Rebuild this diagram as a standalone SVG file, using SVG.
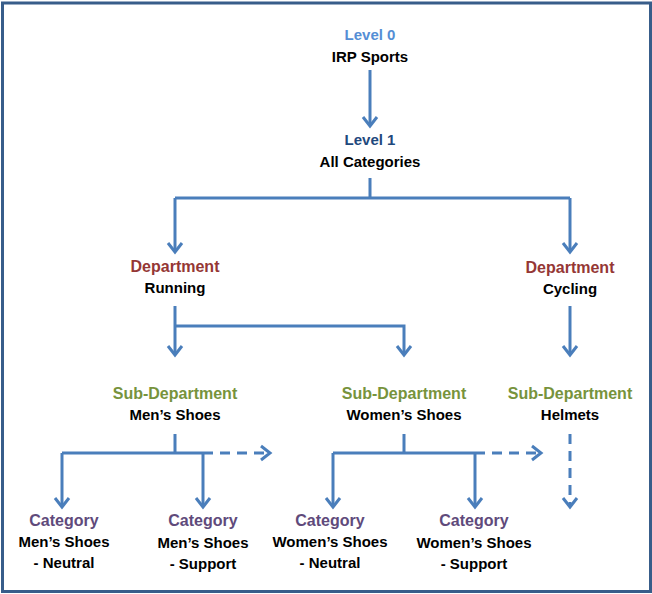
<svg xmlns="http://www.w3.org/2000/svg" width="652" height="594" viewBox="0 0 652 594">
<defs>
<marker id="chev" markerUnits="userSpaceOnUse" markerWidth="20" markerHeight="20" refX="0" refY="0" viewBox="-12 -10 14 20" orient="auto" overflow="visible">
<path d="M-9,-7 L0,0 L-9,7" fill="none" stroke="#4A7EBB" stroke-width="3"/>
</marker>
<style>
.t{font-family:"Liberation Sans",Arial,sans-serif;font-weight:bold;text-anchor:middle;font-size:15px;fill:#000}
.l0{fill:#558ED5}
.l1{fill:#1F497D}
.dep{fill:#953735;font-size:16px}
.sub{fill:#77933C;font-size:16px}
.cat{fill:#604A7B;font-size:16px}
.c{fill:none;stroke:#4A7EBB;stroke-width:3}
.a{marker-end:url(#chev)}
.d{stroke-dasharray:10 7}
</style>
</defs>
<rect x="2.5" y="3" width="648" height="588.5" fill="#fff" stroke="#385D8A" stroke-width="3"/>
<g id="connectors">
<path class="c a" d="M370,70 V126"/>
<path class="c" d="M370,178 V198 M175,198 H570"/>
<path class="c a" d="M175,198 V252"/>
<path class="c a" d="M570,198 V252"/>
<path class="c a" d="M175,306 V355"/>
<path class="c a" d="M175,326 H404 V355"/>
<path class="c a" d="M570,306 V355"/>
<path class="c" d="M175,434 V453 M62,453 H203"/>
<path class="c a" d="M62,453 V507"/>
<path class="c a" d="M203,453 V507"/>
<path class="c d a" d="M203,453 H270"/>
<path class="c" d="M404,434 V453 M333,453 H475"/>
<path class="c a" d="M333,453 V507"/>
<path class="c a" d="M475,453 V507"/>
<path class="c d a" d="M475,453 H541"/>
<path class="c d a" d="M570,434 V507"/>
</g>
<g id="level0"><text class="t l0" x="370" y="40">Level 0</text><text class="t" x="370" y="62">IRP Sports</text></g>
<g id="level1"><text class="t l1" x="370" y="145">Level 1</text><text class="t" x="370" y="167">All Categories</text></g>
<g id="dept-running"><text class="t dep" x="175" y="272">Department</text><text class="t" x="175" y="293">Running</text></g>
<g id="dept-cycling"><text class="t dep" x="570" y="273">Department</text><text class="t" x="570" y="294">Cycling</text></g>
<g id="sub-mens"><text class="t sub" x="175" y="399">Sub-Department</text><text class="t" x="175" y="420">Men’s Shoes</text></g>
<g id="sub-womens"><text class="t sub" x="404" y="399">Sub-Department</text><text class="t" x="404" y="420">Women’s Shoes</text></g>
<g id="sub-helmets"><text class="t sub" x="570" y="399">Sub-Department</text><text class="t" x="570" y="420">Helmets</text></g>
<g id="cat-mens-neutral"><text class="t cat" x="64" y="526">Category</text><text class="t" x="64" y="547">Men’s Shoes</text><text class="t" x="64" y="568">- Neutral</text></g>
<g id="cat-mens-support"><text class="t cat" x="203" y="526">Category</text><text class="t" x="203" y="548">Men’s Shoes</text><text class="t" x="203" y="569">- Support</text></g>
<g id="cat-womens-neutral"><text class="t cat" x="330" y="526">Category</text><text class="t" x="330" y="547">Women’s Shoes</text><text class="t" x="330" y="568">- Neutral</text></g>
<g id="cat-womens-support"><text class="t cat" x="474" y="526">Category</text><text class="t" x="474" y="548">Women’s Shoes</text><text class="t" x="474" y="569">- Support</text></g>
</svg>
